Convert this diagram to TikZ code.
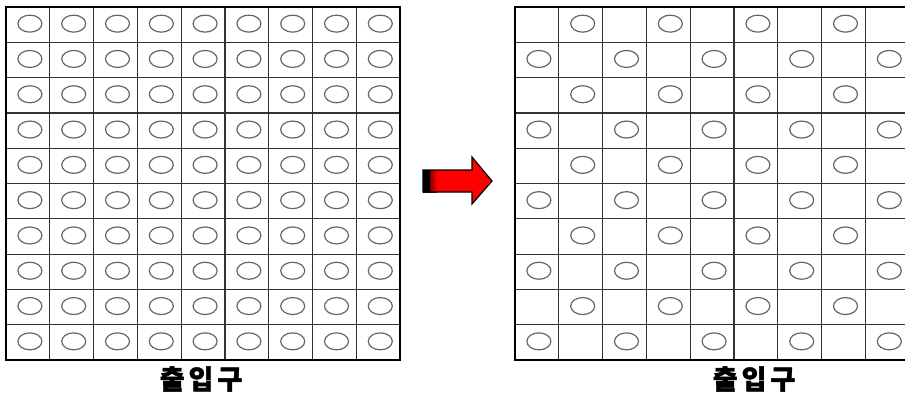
\documentclass[tikz,border=0pt]{standalone}
\usepackage{fontspec}
\newfontfamily\kr{Noto Sans CJK KR}[BoldFeatures={FakeBold=1.5}]
\usetikzlibrary{positioning,calc}
\tikzset{
  gridline/.style={draw=black!80, line width=1.2pt},
  frame/.style={draw=black, line width=2.4pt},
  hole/.style={draw=black!60, line width=1.2pt},
  gatelabel/.style={font=\kr\bfseries\fontsize{27}{29}\selectfont, inner sep=0pt},
  blockarrow/.style={draw=black, line width=1.2pt, line join=miter}
}

\begin{document}
\begin{tikzpicture}[x=1pt, y=-1pt]
  \useasboundingbox (0,0) rectangle (905,394);
  \def\cw{43.8}
  \def\ch{35.3}
  % left grid: every cell
  \coordinate (L0) at (6,7);
  \foreach \i in {1,...,8}
    \draw[gridline] ($(L0)+(\i*\cw,0)$) -- ++(0,10*\ch);
  \foreach \j in {1,...,9}
    \draw[gridline] ($(L0)+(0,\j*\ch)$) -- ++(9*\cw,0);
  \foreach \i in {0,...,8}
    \foreach \j in {0,...,9}
      \draw[hole] ($(L0)+(\i*\cw+0.5*\cw+2,\j*\ch+0.5*\ch-1)$) ellipse (12 and 8.5);
  \draw[frame] (L0) rectangle ++(9*\cw,10*\ch);
  \node[gatelabel] (gateL) at (201,379) {출\hspace{4pt}입\hspace{4pt}구};

  % arrow
  \fill[red] (423,170) -- (472,170) -- (472,157) -- (492,181) -- (472,204) -- (472,192) -- (423,192) -- cycle;
  \shade[left color=black, right color=red] (423,170) rectangle (437,192);
  \fill[black] (423,170) rectangle (430,192);
  \draw[blockarrow] (423,170) -- (472,170) -- (472,157) -- (492,181) -- (472,204) -- (472,192) -- (423,192) -- cycle;

  % right grid: checkerboard
  \coordinate (R0) at (515,7);
  \begin{scope}
    \clip (0,0) rectangle (905,394);
    \foreach \i in {1,...,8}
      \draw[gridline] ($(R0)+(\i*\cw,0)$) -- ++(0,10*\ch);
    \foreach \j in {1,...,9}
      \draw[gridline] ($(R0)+(0,\j*\ch)$) -- ++(9*\cw,0);
    \foreach \i in {0,...,8}
      \foreach \j in {0,...,9} {
        \pgfmathtruncatemacro{\odd}{mod(\i+\j,2)}
        \ifnum\odd=1
          \draw[hole] ($(R0)+(\i*\cw+0.5*\cw+2,\j*\ch+0.5*\ch-1)$) ellipse (12 and 8.5);
        \fi
      }
    \draw[frame] (R0) rectangle ++(9*\cw,10*\ch);
  \end{scope}
  \node[gatelabel] (gateR) at (754,379) {출\hspace{4pt}입\hspace{4pt}구};
\end{tikzpicture}
\end{document}
